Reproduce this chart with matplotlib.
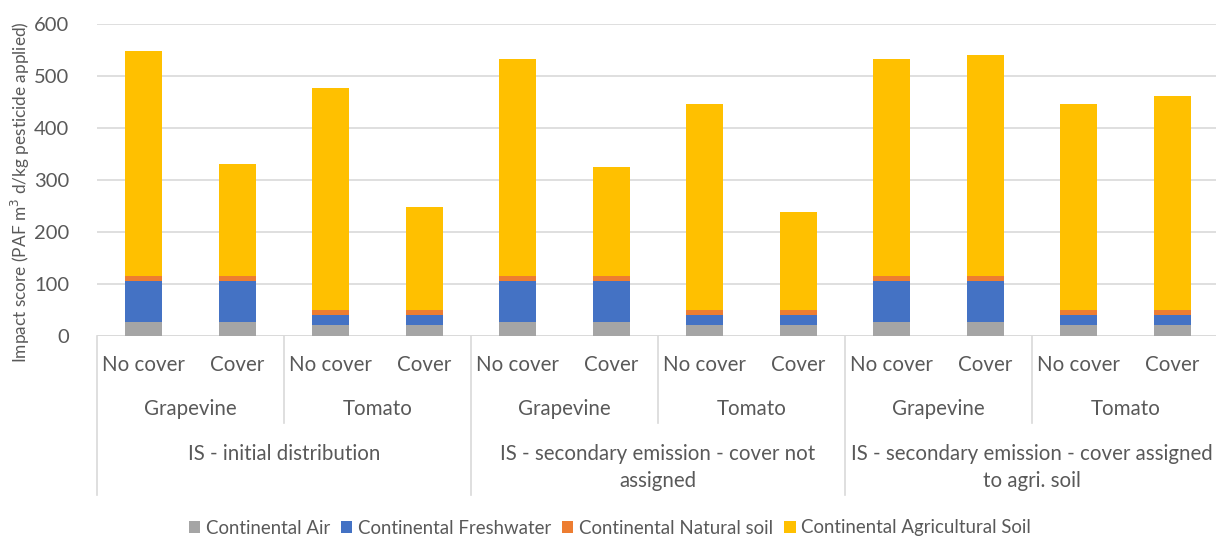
import matplotlib.pyplot as plt

# data
cover = ['No cover', 'Cover'] * 6
crops = ['Grapevine', 'Tomato'] * 3
scenarios = ['IS - initial distribution',
             'IS - secondary emission - cover not\nassigned',
             'IS - secondary emission - cover assigned\nto agri. soil']
series = ['Continental Air', 'Continental Freshwater',
          'Continental Natural soil', 'Continental Agricultural Soil']

air = [27, 27, 22, 22, 27, 27, 22, 22, 27, 27, 22, 22]
fresh = [79, 79, 18, 18, 79, 79, 18, 18, 79, 79, 18, 18]
natural = [10, 10, 10, 10, 10, 10, 10, 10, 10, 10, 10, 10]
totals = [548, 330, 476, 249, 533, 325, 447, 238, 533, 540, 447, 461]
agri = [t - a - f - n for t, a, f, n in zip(totals, air, fresh, natural)]

colors = ['#A5A5A5', '#4472C4', '#ED7D31', '#FFC000']
txt = '#595959'
line = '#D9D9D9'

plt.rcParams['font.family'] = ['Lato', 'DejaVu Sans']

fig = plt.figure(figsize=(12.16, 5.4), dpi=100)
W, H = 1216, 540
x0, x1 = 97, 97 + 12 * 93.5
ax = fig.add_axes([x0 / W, 1 - 336 / H, (x1 - x0) / W, (336 - 24) / H])

x = list(range(12))
bottom = [0] * 12
for vals, c, lab in zip([air, fresh, natural, agri], colors, series):
    ax.bar(x, vals, 0.4, bottom=bottom, color=c, label=lab, zorder=3)
    bottom = [b + v for b, v in zip(bottom, vals)]

ax.set_xlim(-0.5, 11.5)
ax.set_ylim(0, 600)
ax.set_yticks(range(0, 601, 100))
ax.yaxis.grid(True, color=line, lw=1.2, zorder=0)
for s in ax.spines.values():
    s.set_visible(False)
ax.tick_params(axis='y', length=0, labelsize=14.5, colors=txt, pad=20)
ax.set_xticks([])
ax.axhline(0, color=line, lw=1.2, zorder=2)

ax.set_ylabel('Impact score (PAF m$^3$ d/kg pesticide applied)', fontsize=12.4,
              color=txt)
ax.yaxis.set_label_coords(-0.058, 0.46)

# multi-level category axis
tr = ax.get_xaxis_transform()
def yf(py):
    return (336 - py) / (336 - 24)

fs = 14.8
for i, c in enumerate(cover):
    ax.text(i, yf(365), c, transform=tr, ha='center', va='center',
            fontsize=fs, color=txt, clip_on=False)
for j, c in enumerate(crops):
    ax.text(2 * j + 0.5, yf(409), c, transform=tr, ha='center', va='center',
            fontsize=fs, color=txt, clip_on=False)
for k, s in enumerate(scenarios):
    ax.text(4 * k + 1.5, yf(444), s, transform=tr, ha='center', va='top',
            fontsize=fs, color=txt, linespacing=1.42, clip_on=False)

for j in range(6):
    xl = 2 * j - 0.5
    bottom_py = 495 if j % 2 == 0 else 423
    ax.plot([xl, xl], [0, yf(bottom_py)], transform=tr, color=line, lw=1.2,
            clip_on=False)

ax.legend(loc='center', bbox_to_anchor=(610 / W, 1 - 528 / H),
          bbox_transform=fig.transFigure, ncol=4, frameon=False,
          fontsize=13.4, handlelength=0.6, handleheight=0.6,
          handletextpad=0.3, columnspacing=0.6, labelcolor=txt)

fig.savefig('out.png', dpi=100)
